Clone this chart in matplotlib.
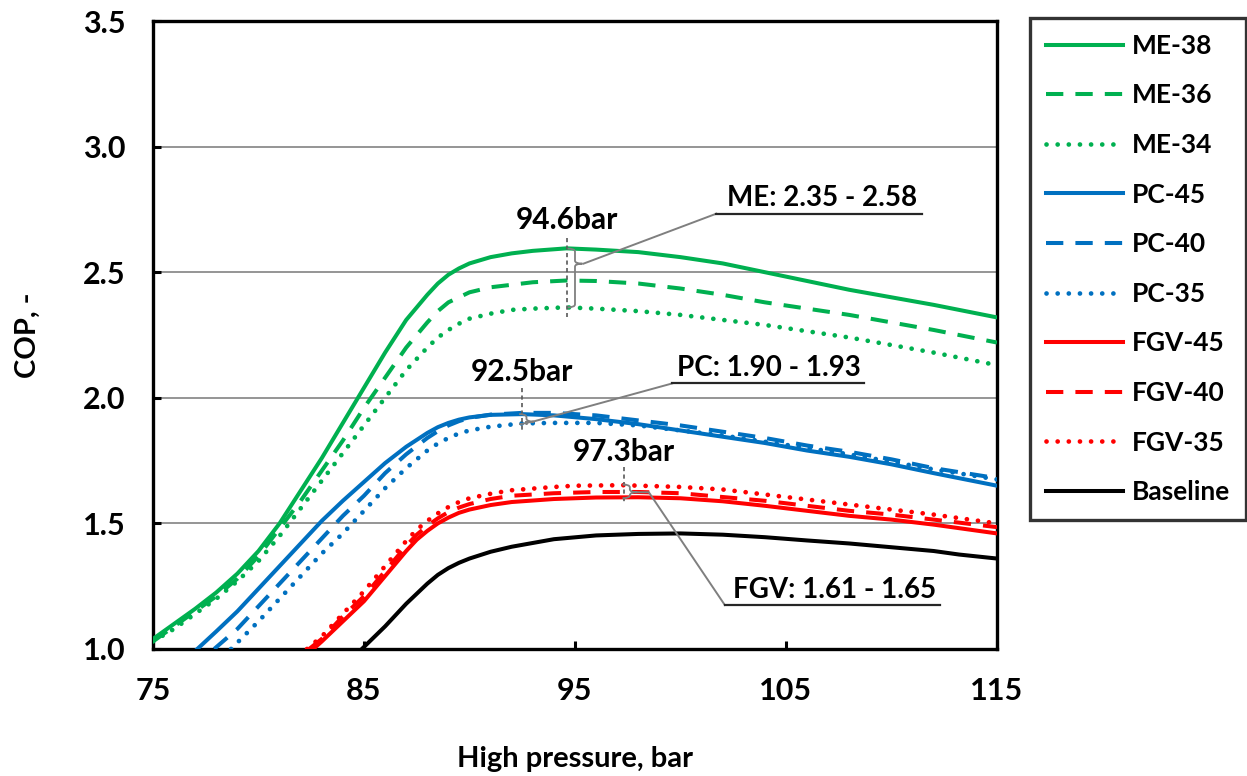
import matplotlib
matplotlib.use("Agg")
import matplotlib.pyplot as plt
from matplotlib.path import Path
from matplotlib.patches import PathPatch

plt.rcParams['font.family'] = ['Lato', 'DejaVu Sans']
plt.rcParams['font.weight'] = 'bold'

# ---- data (high pressure [bar] -> COP [-]) ----
me38_x = [75, 76, 77, 78, 79, 80, 81, 82, 83, 84, 85, 86, 87, 88, 88.5, 89, 89.5, 90, 91, 92, 93,
          94.6, 96, 98, 100, 102, 104, 106, 108, 110, 112, 115]
me38_y = [1.04, 1.10, 1.16, 1.225, 1.30, 1.39, 1.50, 1.63, 1.76, 1.90, 2.04, 2.18, 2.31, 2.41, 2.455,
          2.49, 2.515, 2.535, 2.56, 2.575, 2.585, 2.595, 2.59, 2.58, 2.56, 2.535, 2.50, 2.465, 2.43,
          2.40, 2.37, 2.32]

me36_x = me38_x
me36_y = [1.03, 1.09, 1.15, 1.21, 1.28, 1.37, 1.48, 1.59, 1.71, 1.83, 1.96, 2.08, 2.20, 2.30, 2.345,
          2.38, 2.40, 2.42, 2.44, 2.45, 2.46, 2.467, 2.465, 2.455, 2.435, 2.41, 2.38, 2.355, 2.33,
          2.30, 2.27, 2.22]

me34_x = me38_x
me34_y = [1.03, 1.08, 1.14, 1.20, 1.27, 1.35, 1.45, 1.56, 1.67, 1.78, 1.89, 2.00, 2.11, 2.20, 2.24,
          2.27, 2.295, 2.315, 2.335, 2.35, 2.355, 2.36, 2.355, 2.345, 2.33, 2.31, 2.29, 2.265, 2.24,
          2.21, 2.18, 2.13]

pc45_x = [77.1, 78, 79, 80, 81, 82, 83, 84, 85, 86, 87, 88, 88.5, 89, 89.5, 90, 91, 92.5, 94, 96,
          98, 100, 102, 104, 106, 108, 110, 112, 115]
pc45_y = [1.0, 1.07, 1.15, 1.24, 1.33, 1.42, 1.51, 1.59, 1.665, 1.74, 1.805, 1.86, 1.883, 1.90,
          1.913, 1.922, 1.932, 1.935, 1.93, 1.915, 1.895, 1.87, 1.845, 1.82, 1.79, 1.765, 1.735,
          1.70, 1.65]

pc40_x = [77.9, 79, 80, 81, 82, 83, 84, 85, 86, 87, 88, 88.5, 89, 89.5, 90, 91, 92.5, 94, 96, 98,
          100, 102, 104, 106, 108, 110, 112, 115]
pc40_y = [1.0, 1.08, 1.17, 1.26, 1.35, 1.44, 1.53, 1.61, 1.70, 1.775, 1.84, 1.867, 1.89, 1.907,
          1.92, 1.933, 1.94, 1.94, 1.93, 1.91, 1.89, 1.865, 1.84, 1.81, 1.785, 1.755, 1.72, 1.68]

pc35_x = [78.7, 80, 81, 82, 83, 84, 85, 86, 87, 88, 88.5, 89, 89.5, 90, 91, 92.5, 94, 96, 98, 100,
          102, 104, 106, 108, 110, 112, 115]
pc35_y = [1.0, 1.11, 1.20, 1.29, 1.38, 1.46, 1.55, 1.64, 1.72, 1.79, 1.818, 1.84, 1.858, 1.87,
          1.885, 1.898, 1.90, 1.90, 1.89, 1.87, 1.85, 1.825, 1.80, 1.775, 1.745, 1.715, 1.675]

fgv45_x = [82.6, 83, 84, 85, 86, 87, 87.5, 88, 88.5, 89, 89.5, 90, 91, 92, 94, 96, 98, 100, 102,
           104, 106, 108, 110, 112, 115]
fgv45_y = [1.0, 1.03, 1.11, 1.19, 1.29, 1.39, 1.435, 1.47, 1.50, 1.523, 1.542, 1.555, 1.573,
           1.585, 1.597, 1.603, 1.604, 1.60, 1.588, 1.57, 1.55, 1.53, 1.515, 1.495, 1.46]

fgv40_x = [82.4, 83, 84, 85, 86, 87, 87.5, 88, 88.5, 89, 89.5, 90, 91, 92, 94, 96, 98, 100, 102,
           104, 106, 108, 110, 112, 115]
fgv40_y = [1.0, 1.04, 1.13, 1.21, 1.31, 1.41, 1.455, 1.49, 1.52, 1.545, 1.563, 1.577, 1.597,
           1.61, 1.62, 1.625, 1.625, 1.62, 1.605, 1.59, 1.57, 1.55, 1.535, 1.515, 1.485]

fgv35_x = [82.3, 83, 84, 85, 86, 87, 87.5, 88, 88.5, 89, 89.5, 90, 91, 92, 94, 95, 97.3, 100, 102,
           104, 106, 108, 110, 112, 115]
fgv35_y = [1.0, 1.05, 1.14, 1.23, 1.33, 1.43, 1.475, 1.51, 1.54, 1.565, 1.585, 1.60, 1.618, 1.632,
           1.645, 1.65, 1.652, 1.645, 1.635, 1.615, 1.595, 1.575, 1.555, 1.535, 1.50]

base_x = [84.9, 86, 87, 88, 88.5, 89, 89.5, 90, 91, 92, 94, 96, 98, 100, 102, 104, 106, 108, 110,
          112, 113.2, 115]
base_y = [1.0, 1.09, 1.18, 1.26, 1.295, 1.322, 1.343, 1.36, 1.387, 1.407, 1.437, 1.452, 1.458,
          1.46, 1.455, 1.445, 1.432, 1.42, 1.405, 1.39, 1.376, 1.36]

labels = ['ME-38', 'ME-36', 'ME-34', 'PC-45', 'PC-40', 'PC-35', 'FGV-45', 'FGV-40', 'FGV-35', 'Baseline']
xs = [me38_x, me36_x, me34_x, pc45_x, pc40_x, pc35_x, fgv45_x, fgv40_x, fgv35_x, base_x]
ys = [me38_y, me36_y, me34_y, pc45_y, pc40_y, pc35_y, fgv45_y, fgv40_y, fgv35_y, base_y]

# optimum pressures and COP ranges written on the chart
opt_p = [94.6, 92.5, 97.3]
ranges = ['ME: 2.35 - 2.58', 'PC: 1.90 - 1.93', 'FGV: 1.61 - 1.65']

x_ticks = [75, 85, 95, 105, 115]
y_ticks = [1.0, 1.5, 2.0, 2.5, 3.0, 3.5]

# ---- styles ----
green, blue, red = '#00B050', '#0070C0', '#FF0000'
colors = [green] * 3 + [blue] * 3 + [red] * 3 + ['black']
dashed = (0, (4.3, 3.0))
dotted = (0, (0.01, 2.35))
styles = ['-', dashed, dotted] * 3 + ['-']
LW = 2.9

fig = plt.figure(figsize=(12.47, 7.76), dpi=100)
ax = fig.add_axes([0.1227, 0.1637, 0.6768, 0.8092])

handles = []
for x, y, c, ls, lab in zip(xs, ys, colors, styles, labels):
    dot = ls is dotted
    h, = ax.plot(x, y, color=c, lw=3.4 if dot else LW, linestyle=ls, label=lab,
                 dash_capstyle='round' if dot else 'butt', solid_joinstyle='round', zorder=3)
    handles.append(h)

ax.set_xlim(75, 115)
ax.set_ylim(1.0, 3.5)
ax.set_xticks(x_ticks)
ax.set_yticks(y_ticks)
ax.set_yticklabels([f'{v:.1f}' for v in y_ticks])
ax.grid(axis='y', color='#8c8c8c', lw=1.3)
ax.set_axisbelow(True)
for s in ax.spines.values():
    s.set_linewidth(2.4)
ax.tick_params(direction='in', length=6, width=2.2, labelsize=22, pad=20)
ax.tick_params(axis='x', pad=20)

ax.set_xlabel('High pressure, bar', fontsize=21, fontweight='bold', labelpad=30)
ax.set_ylabel('COP, -', fontsize=21, fontweight='bold', labelpad=30)


def brace(ax, x, y_top, y_bot, y_tip, w, r):
    verts = [(x - w, y_top), (x, y_top), (x, y_top - r),
             (x, y_tip + r), (x, y_tip), (x + w, y_tip),
             (x, y_tip), (x, y_tip - r),
             (x, y_bot + r), (x, y_bot), (x - w, y_bot)]
    codes = [Path.MOVETO, Path.CURVE3, Path.CURVE3,
             Path.LINETO, Path.CURVE3, Path.CURVE3,
             Path.CURVE3, Path.CURVE3,
             Path.LINETO, Path.CURVE3, Path.CURVE3]
    ax.add_patch(PathPatch(Path(verts, codes), fc='none', ec='#7f7f7f', lw=1.3, zorder=4))


# annotation layout: dashed marker span, label height, brace, leader line, underline, range text
ann = [
    dict(v=(2.635, 2.32), ty=2.652, b=(2.594, 2.36, 2.534), bx=95.0,
         lead=[(95.4, 2.534), (101.7, 2.733)], uend=111.45, tx=106.7, tyr=2.742),
    dict(v=(2.037, 1.862), ty=2.047, b=(1.935, 1.895, 1.905), bx=92.7,
         lead=[(93.0, 1.905), (99.6, 2.057)], uend=108.7, tx=104.2, tyr=2.066),
    dict(v=(1.725, 1.58), ty=1.729, b=(1.655, 1.60, 1.624), bx=97.6,
         lead=[(97.9, 1.624), (98.5, 1.624), (102.1, 1.175)], uend=112.3, tx=107.3, tyr=1.185),
]
for p, rng, a in zip(opt_p, ranges, ann):
    ax.plot([p, p], a['v'], color='#595959', lw=1.2, ls=(0, (2.5, 2)), zorder=4)
    ax.text(p, a['ty'], f'{p}bar', ha='center', va='bottom', fontsize=21.5, fontweight='bold')
    brace(ax, a['bx'], a['b'][0], a['b'][1], a['b'][2], 0.35, 0.012)
    lx = [pt[0] for pt in a['lead']]
    ly = [pt[1] for pt in a['lead']]
    ax.plot(lx, ly, color='#7f7f7f', lw=1.4, zorder=4)
    ax.plot([lx[-1], a['uend']], [ly[-1], ly[-1]], color='#262626', lw=1.6, zorder=4)
    ax.text(a['tx'], a['tyr'], rng, ha='center', va='bottom', fontsize=20, fontweight='bold')

leg = fig.legend(handles=handles, loc='upper left', bbox_to_anchor=(0.8262, 0.9768),
                 fontsize=19, frameon=True, fancybox=False, edgecolor='black',
                 handlelength=2.9, handletextpad=0.35, labelspacing=0.97,
                 borderpad=0.6, borderaxespad=0)
leg.get_frame().set_linewidth(2.4)
for t in leg.get_texts():
    t.set_fontweight('bold')

fig.savefig('out.png', dpi=100)
